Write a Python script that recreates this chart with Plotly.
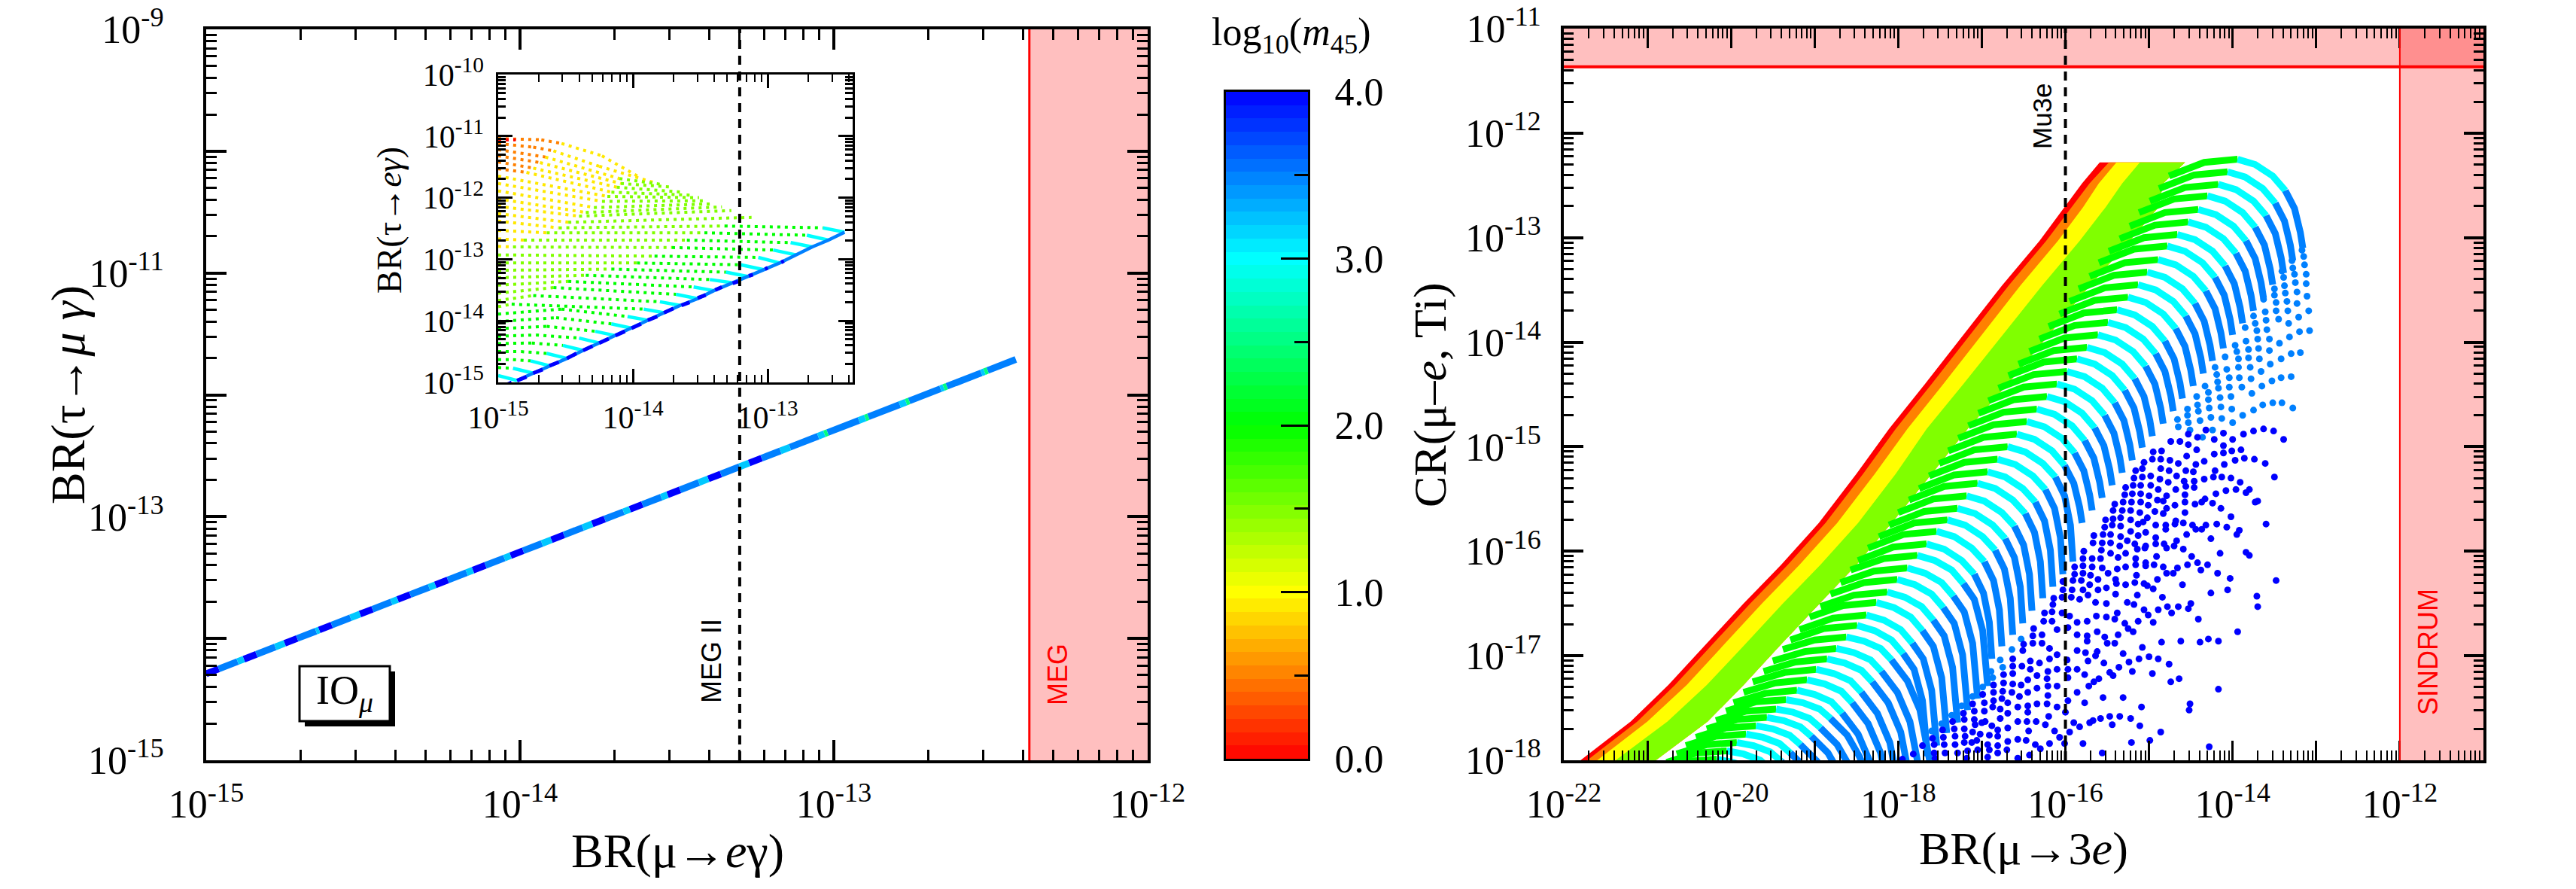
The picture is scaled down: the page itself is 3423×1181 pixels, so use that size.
import math

import plotly.graph_objects as go

W, H = 3423, 1181
SERIF = "Liberation Serif"
SANS = "Liberation Sans"

RED, ORANGE, YELLOW, LIME = "#ff0000", "#ff8000", "#ffff00", "#80ff00"
GREEN, CYAN, AZURE, BLUE = "#00ff00", "#00ffff", "#0080ff", "#0000ff"

# experimental limits, log10
meg_limit = -12.377
meg2_limit = -13.30
mu3e_limit = -16.0
sindrum_limit = -12.0
cr_limit = -11.366

# main left panel: the straight line, log10(BR) break points and colour of each piece
line_x = [-15.00,-14.96,-14.90,-14.88,-14.84,-14.78,-14.75,-14.71,-14.65,-14.64,-14.60,-14.54,-14.51,-14.47,-14.41,
          -14.39,-14.35,-14.29,-14.27,-14.23,-14.17,-14.15,-14.11,-14.05,-14.03,-13.99,-13.93,-13.90,-13.86,-13.80,
          -13.77,-13.73,-13.67,-13.65,-13.61,-13.55,-13.53,-13.49,-13.43,-13.40,-13.36,-13.30,-13.27,-13.23,-13.17,
          -13.14,-13.05,-13.03,-13.02,-12.92,-12.90,-12.89,-12.79,-12.77,-12.76,-12.66,-12.65,-12.64,-12.53,-12.52,
          -12.51,-12.42]
line_y = [-14.29,-14.25,-14.19,-14.17,-14.13,-14.07,-14.04,-14.00,-13.94,-13.93,-13.89,-13.83,-13.80,-13.76,-13.70,
          -13.68,-13.64,-13.58,-13.56,-13.52,-13.46,-13.44,-13.40,-13.34,-13.32,-13.28,-13.22,-13.19,-13.15,-13.09,
          -13.06,-13.02,-12.96,-12.94,-12.90,-12.84,-12.82,-12.78,-12.72,-12.69,-12.65,-12.59,-12.56,-12.52,-12.46,
          -12.43,-12.34,-12.32,-12.31,-12.21,-12.19,-12.18,-12.08,-12.06,-12.05,-11.95,-11.94,-11.93,-11.82,-11.81,
          -11.80,-11.71]
line_c = "BAC" * 15 + "ACG" * 5 + "A"

# inset: dotted rows, one colour letter per piece
inset_x = [
    [-15,-14.68,-14.53,-14.23,-13.95], [-15,-14.74,-14.59,-14.25,-13.85], [-15,-14.65,-14.10,-13.77], [-15,-14.69,-14.09,-13.70],
    [-15,-14.74,-14.12,-13.63], [-15,-14.79,-14.16,-13.57], [-15,-14.19,-13.51], [-15,-14.23,-13.46], [-15,-14.29,-13.41],
    [-15,-14.35,-13.34], [-15,-14.40,-13.27], [-15,-14.48,-13.12],
    [-15,-14.55,-13.32,-12.59], [-15,-14.64,-13.47,-12.71], [-15,-14.81,-13.60,-12.83], [-15,-14.89,-13.71,-12.96],
    [-15,-13.84,-13.07], [-15,-13.97,-13.20], [-15,-14.16,-13.31], [-15,-14.35,-13.43], [-15,-14.48,-13.55], [-15,-14.59,-13.68],
    [-15,-14.74,-13.80], [-15,-14.90,-13.92], [-15,-14.53,-14.04], [-15,-14.57,-14.16], [-15,-14.64,-14.28], [-15,-14.72,-14.40],
    [-15,-14.75,-14.52], [-15,-14.83,-14.64], [-15,-14.89,-14.76], [-15,-14.89]]
inset_y = [
    [-11.04,-11.06,-11.12,-11.32,-11.67], [-11.12,-11.18,-11.24,-11.49,-11.75], [-11.22,-11.34,-11.69,-11.79], [-11.32,-11.43,-11.77,-11.83],
    [-11.42,-11.52,-11.83,-11.91], [-11.53,-11.59,-11.91,-11.96], [-11.65,-11.98,-12.00], [-11.77,-12.06,-12.05], [-11.89,-12.16,-12.10],
    [-12.02,-12.24,-12.15], [-12.14,-12.30,-12.21], [-12.26,-12.40,-12.32],
    [-12.38,-12.49,-12.46,-12.49], [-12.53,-12.57,-12.57,-12.61], [-12.67,-12.69,-12.69,-12.73], [-12.79,-12.80,-12.81,-12.85],
    [-12.93,-12.95,-12.97], [-13.06,-13.06,-13.09], [-13.18,-13.16,-13.21], [-13.30,-13.26,-13.33], [-13.42,-13.36,-13.45], [-13.55,-13.46,-13.57],
    [-13.67,-13.59,-13.69], [-13.77,-13.73,-13.81], [-13.89,-13.81,-13.93], [-14.01,-13.95,-14.05], [-14.13,-14.09,-14.17], [-14.25,-14.23,-14.28],
    [-14.37,-14.36,-14.40], [-14.50,-14.50,-14.53], [-14.63,-14.63,-14.65], [-14.76,-14.77]]
inset_c = ["OOYY", "OOYY", "OYL", "OYL", "OYL", "OYL", "YL", "YL", "YL", "YL", "YL", "YL",
           "YLG", "YLG", "YLG", "YLG", "LG", "LG", "LG", "LG", "LG", "LG", "LG", "LG",
           "GG", "GG", "GG", "GG", "GG", "GG", "GG", "G"]
inset_red_x = [-15.0, -14.87]
inset_red_y = [-11.06, -11.06]

# inset: solid cyan end of each row, and the tips where they meet the diagonal
cyan_start_x = [-12.59,-12.71,-12.83,-12.96,-13.07,-13.20,-13.31,-13.43,-13.55,-13.68,-13.80,-13.92,-14.04,-14.16,-14.28,-14.40,-14.52,-14.64,-14.76,-14.89,-15.0]
cyan_start_y = [-12.49,-12.61,-12.73,-12.85,-12.97,-13.09,-13.21,-13.33,-13.45,-13.57,-13.69,-13.81,-13.93,-14.05,-14.17,-14.28,-14.40,-14.53,-14.65,-14.77,-14.89]
tip_x = [-12.43,-12.55,-12.67,-12.79,-12.91,-13.03,-13.15,-13.27,-13.40,-13.52,-13.65,-13.77,-13.89,-14.01,-14.13,-14.25,-14.37,-14.49,-14.62,-14.74,-14.86]
tip_y = [-12.56,-12.69,-12.80,-12.93,-13.06,-13.17,-13.28,-13.38,-13.51,-13.64,-13.75,-13.87,-13.99,-14.12,-14.24,-14.36,-14.48,-14.61,-14.73,-14.85,-14.97]
inset_blue_x = [(-12.88,-12.90),(-13.00,-13.02),(-13.11,-13.14),(-13.22,-13.26),(-13.34,-13.39),(-13.46,-13.52),(-13.58,-13.64),(-13.70,-13.77),(-13.82,-13.89),
                (-13.94,-14.01),(-14.06,-14.13),(-14.18,-14.25),(-14.30,-14.37),(-14.42,-14.49),(-14.55,-14.62),(-14.67,-14.74),(-14.79,-14.86),(-14.90,-14.95)]
inset_blue_y = [(-13.03,-13.05),(-13.14,-13.16),(-13.25,-13.27),(-13.36,-13.39),(-13.45,-13.50),(-13.58,-13.63),(-13.70,-13.75),(-13.80,-13.87),(-13.93,-13.99),
                (-14.05,-14.12),(-14.17,-14.24),(-14.29,-14.36),(-14.41,-14.48),(-14.53,-14.61),(-14.67,-14.73),(-14.79,-14.85),(-14.91,-14.97),(-15.00,-15.05)]

# right panel: solid bands on the left edge of the cloud
band_y      = [-18.00,-17.63,-17.28,-16.89,-16.50,-16.13,-15.73,-15.26,-14.83,-14.38,-13.92,-13.46,-13.03,-12.71,-12.48,-12.28]
red_edge    = [-21.80,-21.20,-20.75,-20.30,-19.85,-19.40,-18.95,-18.50,-18.11,-17.66,-17.21,-16.76,-16.31,-16.01,-15.80,-15.59]
orange_edge = [-21.72,-21.12,-20.67,-20.22,-19.77,-19.32,-18.87,-18.42,-18.03,-17.58,-17.13,-16.68,-16.23,-15.93,-15.71,-15.48]
yellow_edge = [-21.60,-21.00,-20.53,-20.08,-19.63,-19.18,-18.73,-18.28,-17.89,-17.44,-16.99,-16.54,-16.09,-15.79,-15.60,-15.39]
lime_edge   = [-21.38,-20.76,-20.29,-19.83,-19.38,-18.93,-18.48,-18.03,-17.66,-17.20,-16.74,-16.28,-15.83,-15.52,-15.32,-15.11]
lime_end    = [-20.90,-20.28,-19.85,-19.40,-18.94,-18.50,-18.08,-17.60,-17.17,-16.67,-16.19,-15.71,-15.23,-14.89,-14.83,-14.57]

# right panel: arcs, vertices 0-2 green, 2-5 cyan, 5-8 azure
arc_x = [
    [-14.76,-14.34,-13.94,-13.73,-13.52,-13.37,-13.26,-13.19,-13.16],
    [-14.88,-14.46,-14.06,-13.85,-13.64,-13.49,-13.38,-13.31,-13.28],
    [-14.99,-14.57,-14.17,-13.96,-13.75,-13.60,-13.49,-13.42,-13.39],
    [-15.12,-14.70,-14.30,-14.09,-13.88,-13.73,-13.62,-13.55,-13.52],
    [-15.23,-14.81,-14.41,-14.20,-13.99,-13.84,-13.73,-13.66,-13.63],
    [-15.35,-14.93,-14.53,-14.32,-14.11,-13.96,-13.85,-13.78,-13.75],
    [-15.48,-15.06,-14.66,-14.45,-14.24,-14.09,-13.98,-13.91,-13.88],
    [-15.60,-15.18,-14.78,-14.57,-14.36,-14.21,-14.10,-14.03,-14.00],
    [-15.71,-15.29,-14.89,-14.68,-14.47,-14.32,-14.21,-14.14,-14.11],
    [-15.84,-15.42,-15.02,-14.81,-14.60,-14.45,-14.34,-14.27,-14.24],
    [-15.95,-15.53,-15.13,-14.92,-14.71,-14.56,-14.45,-14.38,-14.35],
    [-16.07,-15.65,-15.25,-15.04,-14.83,-14.68,-14.57,-14.50,-14.47],
    [-16.20,-15.78,-15.38,-15.17,-14.96,-14.81,-14.70,-14.63,-14.60],
    [-16.31,-15.89,-15.49,-15.28,-15.07,-14.92,-14.81,-14.74,-14.71],
    [-16.43,-16.01,-15.61,-15.40,-15.19,-15.04,-14.93,-14.86,-14.83],
    [-16.56,-16.14,-15.74,-15.53,-15.32,-15.17,-15.06,-14.99,-14.96],
    [-16.68,-16.26,-15.86,-15.65,-15.44,-15.29,-15.18,-15.11,-15.08],
    [-16.80,-16.38,-15.98,-15.77,-15.56,-15.41,-15.30,-15.23,-15.20],
    [-16.92,-16.50,-16.10,-15.89,-15.68,-15.53,-15.42,-15.35,-15.32],
    [-17.04,-16.62,-16.22,-16.01,-15.80,-15.65,-15.54,-15.47,-15.44],
    [-17.16,-16.74,-16.34,-16.13,-15.92,-15.77,-15.66,-15.59,-15.56],
    [-17.28,-16.86,-16.46,-16.25,-16.04,-15.89,-15.78,-15.71,-15.68],
    [-17.40,-16.98,-16.58,-16.37,-16.16,-16.01,-15.90,-15.83,-15.80],
    [-17.51,-17.09,-16.69,-16.48,-16.27,-16.12,-16.01,-15.94,-15.91],
    [-17.63,-17.21,-16.81,-16.60,-16.39,-16.24,-16.13,-16.06,-16.03],
    [-17.75,-17.33,-16.93,-16.72,-16.51,-16.36,-16.25,-16.18,-16.15],
    [-17.87,-17.45,-17.05,-16.84,-16.63,-16.48,-16.37,-16.30,-16.27],
    [-18.00,-17.58,-17.18,-16.97,-16.76,-16.61,-16.50,-16.43,-16.40],
    [-18.11,-17.69,-17.29,-17.08,-16.87,-16.72,-16.61,-16.54,-16.51],
    [-18.23,-17.81,-17.41,-17.20,-16.99,-16.84,-16.73,-16.66,-16.63],
    [-18.36,-17.94,-17.54,-17.33,-17.12,-16.97,-16.86,-16.79,-16.76],
    [-18.48,-18.06,-17.66,-17.45,-17.24,-17.09,-16.98,-16.91,-16.88],
    [-18.57,-18.17,-17.77,-17.56,-17.36,-17.22,-17.09,-16.99,-16.93],
    [-18.69,-18.29,-17.89,-17.68,-17.48,-17.34,-17.21,-17.11,-17.05],
    [-18.81,-18.41,-18.01,-17.80,-17.60,-17.46,-17.33,-17.23,-17.17],
    [-18.93,-18.53,-18.13,-17.92,-17.72,-17.58,-17.45,-17.35,-17.29],
    [-19.06,-18.66,-18.26,-18.05,-17.85,-17.71,-17.58,-17.48,-17.42],
    [-19.18,-18.78,-18.38,-18.17,-17.97,-17.83,-17.70,-17.60,-17.54],
    [-19.29,-18.89,-18.49,-18.28,-18.08,-17.94,-17.81,-17.71,-17.65],
    [-19.38,-19.00,-18.62,-18.41,-18.21,-18.08,-17.89,-17.74,-17.62],
    [-19.50,-19.12,-18.74,-18.53,-18.33,-18.20,-18.01,-17.86,-17.74],
    [-19.61,-19.23,-18.85,-18.64,-18.44,-18.31,-18.12,-17.97,-17.85],
    [-19.74,-19.36,-18.98,-18.77,-18.57,-18.44,-18.25,-18.10,-17.98],
    [-19.85,-19.47,-19.09,-18.88,-18.68,-18.55,-18.36,-18.21,-18.09],
    [-19.97,-19.59,-19.21,-19.00,-18.80,-18.67,-18.48,-18.33,-18.21],
    [-20.06,-19.70,-19.34,-19.14,-18.94,-18.81,-18.61,-18.46,-18.34],
    [-20.18,-19.82,-19.46,-19.26,-19.06,-18.93,-18.73,-18.58,-18.46],
    [-20.29,-19.93,-19.57,-19.37,-19.17,-19.04,-18.84,-18.69,-18.57],
    [-20.42,-20.06,-19.70,-19.50,-19.30,-19.17,-18.97,-18.82,-18.70],
    [-20.54,-20.18,-19.82,-19.62,-19.42,-19.29,-19.09,-18.94,-18.82],
    [-20.65,-20.29,-19.93,-19.73,-19.53,-19.40,-19.20,-19.05,-18.93],
    [-20.77,-20.41,-20.05,-19.85,-19.65,-19.52,-19.32,-19.17,-19.05],
    [-20.89,-20.53,-20.17,-19.97,-19.77,-19.64,-19.44,-19.29,-19.17],
    [-21.01,-20.65,-20.29,-20.09,-19.89,-19.76,-19.56,-19.41,-19.29]]
arc_y = [
    [-12.41,-12.28,-12.25,-12.30,-12.41,-12.55,-12.72,-12.95,-13.10],
    [-12.53,-12.40,-12.37,-12.42,-12.53,-12.67,-12.84,-13.07,-13.22],
    [-12.65,-12.52,-12.49,-12.54,-12.65,-12.79,-12.96,-13.19,-13.34],
    [-12.76,-12.63,-12.60,-12.65,-12.76,-12.90,-13.07,-13.30,-13.45],
    [-12.89,-12.76,-12.73,-12.78,-12.89,-13.03,-13.20,-13.43,-13.58],
    [-13.01,-12.88,-12.85,-12.90,-13.01,-13.15,-13.32,-13.55,-13.70],
    [-13.13,-13.00,-12.97,-13.02,-13.13,-13.27,-13.44,-13.67,-13.82],
    [-13.24,-13.11,-13.08,-13.13,-13.24,-13.38,-13.55,-13.78,-13.93],
    [-13.37,-13.24,-13.21,-13.26,-13.37,-13.51,-13.68,-13.91,-14.06],
    [-13.49,-13.36,-13.33,-13.38,-13.49,-13.63,-13.80,-14.03,-14.18],
    [-13.61,-13.48,-13.45,-13.50,-13.61,-13.75,-13.92,-14.15,-14.30],
    [-13.73,-13.60,-13.57,-13.62,-13.73,-13.87,-14.04,-14.27,-14.42],
    [-13.85,-13.72,-13.69,-13.74,-13.85,-13.99,-14.16,-14.39,-14.54],
    [-13.97,-13.84,-13.81,-13.86,-13.97,-14.11,-14.28,-14.51,-14.66],
    [-14.09,-13.96,-13.93,-13.98,-14.09,-14.23,-14.40,-14.63,-14.78],
    [-14.21,-14.08,-14.05,-14.10,-14.21,-14.35,-14.52,-14.75,-14.90],
    [-14.32,-14.19,-14.16,-14.21,-14.32,-14.46,-14.63,-14.86,-15.01],
    [-14.44,-14.31,-14.28,-14.33,-14.44,-14.58,-14.75,-14.98,-15.13],
    [-14.56,-14.43,-14.40,-14.45,-14.56,-14.70,-14.87,-15.10,-15.25],
    [-14.68,-14.55,-14.52,-14.57,-14.68,-14.82,-14.99,-15.22,-15.37],
    [-14.80,-14.67,-14.64,-14.69,-14.80,-14.94,-15.11,-15.34,-15.49],
    [-14.92,-14.79,-14.76,-14.81,-14.92,-15.06,-15.23,-15.46,-15.61],
    [-15.04,-14.91,-14.88,-14.93,-15.04,-15.18,-15.35,-15.58,-15.73],
    [-15.16,-15.03,-15.00,-15.05,-15.16,-15.29,-15.47,-15.75,-16.10],
    [-15.28,-15.15,-15.12,-15.17,-15.28,-15.41,-15.59,-15.87,-16.22],
    [-15.40,-15.27,-15.24,-15.29,-15.40,-15.53,-15.71,-15.99,-16.34],
    [-15.51,-15.38,-15.35,-15.40,-15.51,-15.64,-15.82,-16.10,-16.45],
    [-15.63,-15.50,-15.47,-15.52,-15.63,-15.76,-15.94,-16.22,-16.57],
    [-15.75,-15.62,-15.59,-15.64,-15.75,-15.88,-16.06,-16.34,-16.69],
    [-15.86,-15.73,-15.70,-15.75,-15.86,-15.99,-16.17,-16.45,-16.80],
    [-15.97,-15.84,-15.81,-15.86,-15.97,-16.10,-16.28,-16.56,-16.91],
    [-16.09,-15.96,-15.93,-15.98,-16.09,-16.22,-16.40,-16.68,-17.03],
    [-16.18,-16.07,-16.04,-16.09,-16.18,-16.31,-16.46,-16.76,-17.29],
    [-16.30,-16.19,-16.16,-16.21,-16.30,-16.43,-16.58,-16.88,-17.41],
    [-16.41,-16.30,-16.27,-16.32,-16.41,-16.54,-16.69,-16.99,-17.52],
    [-16.53,-16.42,-16.39,-16.44,-16.53,-16.66,-16.81,-17.11,-17.64],
    [-16.63,-16.52,-16.49,-16.54,-16.63,-16.76,-16.91,-17.21,-17.74],
    [-16.75,-16.64,-16.61,-16.66,-16.75,-16.88,-17.03,-17.33,-17.86],
    [-16.85,-16.74,-16.71,-16.76,-16.85,-16.98,-17.13,-17.43,-17.96],
    [-16.94,-16.85,-16.82,-16.86,-16.93,-17.04,-17.24,-17.52,-18.02],
    [-17.05,-16.96,-16.93,-16.97,-17.04,-17.15,-17.35,-17.63,-18.13],
    [-17.15,-17.06,-17.03,-17.07,-17.14,-17.25,-17.45,-17.73,-18.23],
    [-17.25,-17.16,-17.13,-17.17,-17.24,-17.35,-17.55,-17.83,-18.33],
    [-17.35,-17.26,-17.23,-17.27,-17.34,-17.45,-17.65,-17.93,-18.43],
    [-17.45,-17.36,-17.33,-17.37,-17.44,-17.55,-17.75,-18.03,-18.53],
    [-17.53,-17.44,-17.42,-17.45,-17.51,-17.60,-17.76,-17.97,-18.22],
    [-17.62,-17.53,-17.51,-17.54,-17.60,-17.69,-17.85,-18.06,-18.31],
    [-17.70,-17.61,-17.59,-17.62,-17.68,-17.77,-17.93,-18.14,-18.39],
    [-17.78,-17.69,-17.67,-17.70,-17.76,-17.85,-18.01,-18.22,-18.47],
    [-17.86,-17.77,-17.75,-17.78,-17.84,-17.93,-18.09,-18.30,-18.55],
    [-17.94,-17.85,-17.83,-17.86,-17.92,-18.01,-18.17,-18.38,-18.63],
    [-18.02,-17.93,-17.91,-17.94,-18.00,-18.09,-18.25,-18.46,-18.71],
    [-18.10,-18.01,-17.99,-18.02,-18.08,-18.17,-18.33,-18.54,-18.79],
    [-18.17,-18.08,-18.06,-18.09,-18.15,-18.24,-18.40,-18.61,-18.86]]

# right panel: separate azure points at the arc tails
azure_dots = [
    (-13.17,-13.12),(-13.15,-13.18),(-13.14,-13.26),(-13.12,-13.35),(-13.12,-13.44),(-13.11,-13.56),(-13.09,-13.70),(-13.08,-13.89),
    (-13.29,-13.22),(-13.28,-13.29),(-13.26,-13.35),(-13.25,-13.43),(-13.23,-13.52),(-13.23,-13.63),(-13.21,-13.76),(-13.20,-13.90),
    (-13.41,-13.32),(-13.39,-13.38),(-13.38,-13.46),(-13.37,-13.53),(-13.35,-13.61),(-13.34,-13.70),(-13.33,-13.82),(-13.32,-13.95),(-13.19,-14.10),
    (-13.50,-13.49),(-13.50,-13.55),(-13.48,-13.62),(-13.48,-13.70),(-13.45,-13.78),(-13.44,-14.01),(-13.30,-14.11),
    (-13.63,-13.59),(-13.61,-13.71),(-13.60,-13.79),(-13.59,-13.88),(-13.56,-13.97),(-13.56,-14.08),(-13.42,-14.16),
    (-13.75,-13.75),(-13.73,-13.82),(-13.71,-13.89),(-13.70,-13.97),(-13.69,-14.06),(-13.68,-14.16),(-13.55,-14.21),(-13.66,-14.28),
    (-13.85,-13.86),(-13.84,-13.99),(-13.81,-14.07),(-13.81,-14.15),(-13.79,-14.24),(-13.78,-14.35),(-13.53,-14.37),(-13.42,-14.34),(-13.30,-14.33),
    (-13.97,-14.03),(-13.95,-14.09),(-13.93,-14.16),(-13.93,-14.24),(-13.92,-14.34),(-13.89,-14.43),(-13.65,-14.42),(-13.77,-14.49),
    (-14.09,-14.14),(-14.07,-14.26),(-14.04,-14.34),(-14.04,-14.43),(-14.02,-14.52),(-14.01,-14.64),(-13.88,-14.70),(-13.75,-14.65),(-13.64,-14.60),(-13.52,-14.58),(-13.41,-14.58),(-13.28,-14.63),
    (-14.21,-14.24),(-14.19,-14.31),(-14.18,-14.38),(-14.17,-14.44),(-14.15,-14.53),(-14.14,-14.62),(-14.13,-14.73),(-14.00,-14.77),
    (-14.33,-14.42),(-14.29,-14.48),(-14.29,-14.55),(-14.28,-14.63),(-14.26,-14.72),(-14.24,-14.84),
    (-14.43,-14.52),(-14.42,-14.60),(-14.41,-14.66),(-14.39,-14.75),(-14.36,-14.91),
    (-14.54,-14.64),(-14.54,-14.70),(-14.53,-14.77),(-14.51,-14.84),(-14.66,-14.74),(-14.65,-14.81),
    (-16.53,-16.84),(-16.64,-16.94),(-16.78,-17.04),(-16.75,-17.11),(-16.89,-17.15),(-16.87,-17.21),(-16.99,-17.30),(-17.11,-17.39),(-17.24,-17.48),(-17.36,-17.57),(-17.48,-17.65),(-17.60,-17.72)]

# right panel: scattered blue points (heaviest masses)
blue_dots = [
    (-13.39,-14.93),(-13.51,-14.85),(-13.63,-14.83),(-13.75,-14.85),(-13.87,-14.88),(-14.00,-14.93),(-14.11,-14.87),(-14.22,-14.93),(-14.32,-14.84),(-14.42,-14.91),(-14.53,-14.88),
    (-14.11,-14.99),(-13.90,-15.03),(-14.01,-15.04),(-14.11,-15.06),(-14.22,-15.07),(-14.43,-15.03),(-14.53,-14.98),(-14.63,-14.95),(-14.74,-14.95),
    (-13.61,-15.16),(-13.74,-15.12),(-13.86,-15.11),(-13.97,-15.13),(-14.10,-15.17),(-14.34,-15.14),(-14.44,-15.17),(-14.55,-15.09),(-14.65,-15.16),(-14.75,-15.13),(-14.85,-15.04),(-14.95,-15.05),
    (-13.50,-15.29),(-14.02,-15.30),(-14.13,-15.29),(-14.23,-15.29),(-14.34,-15.31),(-14.21,-15.23),(-14.47,-15.24),(-14.56,-15.23),(-14.67,-15.28),(-14.76,-15.23),(-14.86,-15.21),(-14.86,-15.12),(-14.96,-15.12),(-15.06,-15.15),
    (-13.91,-15.34),(-13.80,-15.41),(-13.84,-15.44),(-13.96,-15.41),(-14.08,-15.42),(-14.20,-15.45),(-14.46,-15.33),(-14.46,-15.39),(-14.58,-15.33),(-14.56,-15.38),(-14.68,-15.41),(-14.77,-15.34),(-14.87,-15.31),(-14.98,-15.28),(-15.08,-15.21),(-15.16,-15.23),(-15.08,-15.29),(-15.18,-15.30),
    (-13.70,-15.52),(-13.73,-15.53),(-14.14,-15.59),(-14.24,-15.54),(-14.33,-15.50),(-14.37,-15.53),(-14.45,-15.55),(-14.57,-15.46),(-14.57,-15.53),(-14.69,-15.56),(-14.79,-15.47),(-14.79,-15.59),(-14.83,-15.64),(-14.89,-15.41),(-15.00,-15.47),(-14.83,-15.52),(-14.90,-15.51),(-14.98,-15.37),(-15.10,-15.37),(-15.10,-15.45),(-15.19,-15.37),(-15.28,-15.39),(-15.20,-15.45),(-15.29,-15.46),
    (-14.02,-15.67),(-14.57,-15.63),(-14.93,-15.62),(-15.01,-15.56),(-15.10,-15.53),(-15.21,-15.53),(-15.31,-15.53),(-15.41,-15.55),(-15.43,-15.61),(-15.32,-15.61),(-15.22,-15.61),(-15.11,-15.63),
    (-13.60,-15.74),(-14.07,-15.77),(-14.19,-15.74),(-14.32,-15.75),(-14.37,-15.79),(-14.44,-15.79),(-14.48,-15.75),(-14.59,-15.73),(-14.68,-15.71),(-14.69,-15.74),(-14.80,-15.75),(-14.80,-15.79),(-14.92,-15.75),(-15.02,-15.68),(-15.07,-15.72),(-15.13,-15.74),(-15.22,-15.70),(-15.34,-15.68),(-15.43,-15.69),(-15.52,-15.70),(-15.53,-15.77),(-15.44,-15.75),(-15.34,-15.76),
    (-13.92,-15.80),(-13.95,-15.84),(-14.26,-15.88),(-14.55,-15.84),(-15.04,-15.82),(-15.13,-15.85),(-15.22,-15.81),(-15.34,-15.86),(-15.46,-15.84),(-15.55,-15.84),(-15.66,-15.85),
    (-14.15,-16.02),(-13.84,-16.01),(-13.80,-16.04),(-14.59,-15.98),(-14.67,-15.90),(-14.70,-15.95),(-14.82,-15.93),(-14.79,-15.97),(-14.92,-15.87),(-14.92,-15.93),(-15.04,-15.95),(-15.05,-15.97),(-15.17,-15.93),(-15.14,-15.98),(-15.26,-15.90),(-15.35,-15.95),(-15.46,-15.92),(-15.56,-15.92),(-15.67,-15.92),
    (-14.30,-16.13),(-14.42,-16.11),(-14.49,-16.05),(-14.54,-16.13),(-14.38,-16.18),(-14.66,-16.16),(-14.71,-16.21),(-14.79,-16.21),(-14.83,-16.15),(-14.91,-16.05),(-14.94,-16.13),(-15.04,-16.11),(-15.04,-16.14),(-15.16,-16.07),(-15.16,-16.13),(-15.28,-16.02),(-15.28,-16.15),(-15.37,-16.06),(-15.46,-16.02),(-15.57,-15.99),(-15.58,-16.07),(-15.68,-16.07),(-15.78,-16.00),(-15.79,-16.07),
    (-14.18,-16.21),(-14.03,-16.26),(-13.48,-16.28),(-14.06,-16.37),(-14.60,-16.32),(-14.90,-16.27),(-14.95,-16.36),(-15.02,-16.33),(-15.06,-16.31),(-15.15,-16.23),(-15.17,-16.30),(-15.28,-16.32),(-15.38,-16.17),(-15.40,-16.27),(-15.39,-16.31),(-15.49,-16.21),(-15.56,-16.16),(-15.68,-16.15),(-15.79,-16.14),(-15.89,-16.15),(-15.89,-16.22),(-15.79,-16.21),(-15.81,-16.28),(-15.91,-16.28),(-15.70,-16.23),(-15.61,-16.27),
    (-13.71,-16.43),(-13.70,-16.53),(-14.26,-16.40),(-14.84,-16.44),(-15.14,-16.42),(-15.40,-16.41),(-15.51,-16.35),(-15.61,-16.37),(-15.71,-16.32),(-15.79,-16.37),(-15.92,-16.37),(-16.03,-16.29),(-16.03,-16.37),
    (-14.50,-16.50),(-14.53,-16.55),(-14.65,-16.53),(-14.78,-16.53),(-14.73,-16.59),(-14.89,-16.56),(-15.06,-16.56),(-15.01,-16.61),(-15.18,-16.51),(-15.26,-16.49),(-15.51,-16.50),(-15.64,-16.49),(-15.73,-16.42),(-15.83,-16.46),(-15.93,-16.44),(-16.04,-16.44),(-16.14,-16.45),
    (-14.41,-16.65),(-15.13,-16.67),(-14.95,-16.68),(-15.29,-16.69),(-15.25,-16.74),(-15.38,-16.59),(-15.41,-16.65),(-15.51,-16.63),(-15.63,-16.62),(-15.74,-16.67),(-15.86,-16.68),(-15.95,-16.62),(-16.04,-16.59),(-16.15,-16.51),(-16.16,-16.58),(-16.25,-16.59),
    (-13.94,-16.77),(-14.17,-16.86),(-14.29,-16.84),(-14.39,-16.87),(-14.62,-16.86),(-14.85,-16.87),(-15.08,-16.92),(-15.19,-16.77),(-15.37,-16.80),(-15.41,-16.88),(-15.50,-16.88),(-15.53,-16.82),(-15.62,-16.77),(-15.74,-16.81),(-15.74,-16.86),(-15.86,-16.80),(-15.97,-16.73),(-16.10,-16.75),(-16.16,-16.67),(-16.26,-16.67),(-16.38,-16.74),
    (-15.31,-16.98),(-15.62,-16.96),(-15.86,-16.95),(-15.76,-16.97),(-15.64,-17.00),(-14.89,-17.03),(-15.00,-17.01),(-15.12,-17.03),(-14.76,-17.08),(-15.24,-17.06),(-15.54,-17.07),(-15.73,-17.05),(-15.98,-17.04),(-16.10,-16.99),(-16.19,-16.93),(-16.28,-16.88),(-16.39,-16.88),(-16.39,-16.81),(-16.50,-16.89),(-16.28,-16.80),
    (-14.64,-17.22),(-14.74,-17.25),(-14.96,-17.17),(-15.20,-17.15),(-15.36,-17.11),(-15.47,-17.16),(-15.43,-17.19),(-15.77,-17.18),(-15.86,-17.13),(-15.97,-17.13),(-16.10,-17.13),(-16.21,-17.15),(-16.19,-17.03),(-16.31,-17.07),(-16.42,-17.05),(-16.51,-16.95),(-16.63,-17.03),(-16.63,-17.10),(-16.52,-17.10),(-16.42,-17.13),
    (-14.17,-17.32),(-15.60,-17.22),(-15.66,-17.25),(-15.72,-17.29),(-15.97,-17.21),(-16.10,-17.29),(-16.21,-17.29),(-16.22,-17.22),(-16.34,-17.19),(-16.34,-17.31),(-16.45,-17.23),(-16.45,-17.35),(-16.53,-17.28),(-16.63,-17.27),(-16.74,-17.26),(-16.63,-17.17),(-16.74,-17.18),(-16.86,-17.28),
    (-14.51,-17.46),(-14.52,-17.52),(-15.31,-17.40),(-15.55,-17.40),(-15.86,-17.35),(-15.97,-17.43),(-15.77,-17.45),(-15.09,-17.49),(-16.10,-17.49),(-16.00,-17.54),(-16.21,-17.38),(-16.22,-17.46),(-16.34,-17.46),(-16.45,-17.48),(-16.45,-17.54),(-16.57,-17.49),(-16.69,-17.45),(-16.76,-17.41),(-16.55,-17.39),(-16.64,-17.35),(-16.75,-17.34),(-16.86,-17.35),(-16.99,-17.37),(-16.86,-17.43),(-16.97,-17.45),(-17.11,-17.46),
    (-15.35,-17.58),(-15.22,-17.60),(-15.47,-17.58),(-15.58,-17.60),(-15.67,-17.62),(-15.71,-17.64),(-15.44,-17.66),(-15.11,-17.67),(-15.90,-17.64),(-15.83,-17.68),(-16.20,-17.58),(-16.24,-17.66),(-16.35,-17.63),(-16.46,-17.63),(-16.57,-17.63),(-16.69,-17.55),(-16.78,-17.51),(-16.87,-17.49),(-16.97,-17.53),(-17.09,-17.53),(-17.22,-17.55),(-16.78,-17.60),(-16.96,-17.63),(-17.09,-17.61),(-17.21,-17.61),(-17.35,-17.63),
    (-14.86,-17.73),(-15.95,-17.73),(-16.13,-17.72),(-16.07,-17.78),(-16.44,-17.72),(-16.69,-17.69),(-16.81,-17.71),(-16.88,-17.67),(-17.00,-17.64),(-17.08,-17.66),(-17.21,-17.70),(-17.33,-17.70),(-17.47,-17.71),
    (-14.99,-17.81),(-15.21,-17.83),(-15.79,-17.84),(-14.28,-17.87),(-15.56,-17.93),(-16.01,-17.84),(-16.19,-17.84),(-16.36,-17.85),(-16.47,-17.81),(-16.57,-17.80),(-16.69,-17.82),(-16.81,-17.77),(-16.91,-17.76),(-17.02,-17.75),(-17.11,-17.73),(-17.20,-17.77),(-17.32,-17.77),(-17.46,-17.78),(-17.59,-17.79),
    (-16.30,-17.89),(-16.43,-17.95),(-16.81,-17.86),(-16.93,-17.85),(-17.06,-17.81),(-17.12,-17.83),(-17.21,-17.83),(-17.32,-17.85),(-17.45,-17.85),(-17.57,-17.85),(-16.57,-17.98),(-16.70,-17.90),(-16.91,-17.90),(-16.81,-17.93),(-17.05,-17.90),(-17.17,-17.91),(-17.29,-17.93),(-17.44,-17.93),(-17.57,-17.93),(-16.93,-17.97),(-17.18,-17.98),(-17.56,-17.98),
    (-17.71,-17.86),(-17.82,-17.94),(-17.95,-17.99)]

# colour bar bands, log10(m45) at the middle of each band
cb_levels = [0.04,0.12,0.20,0.28,0.36,0.44,0.52,0.60,0.68,0.76,0.84,0.92,1.00,1.08,1.16,1.24,1.32,1.40,1.48,1.56,1.64,1.72,1.80,1.88,1.96,
             2.04,2.12,2.20,2.28,2.36,2.44,2.52,2.60,2.68,2.76,2.84,2.92,3.00,3.08,3.16,3.24,3.32,3.40,3.48,3.56,3.64,3.72,3.80,3.88,3.96]
cb_ticks = [0, 1, 2, 3, 4]
cb_labels = ["0.0", "1.0", "2.0", "3.0", "4.0"]
cb_minor = [0.5, 1.5, 2.5, 3.5]


def pw(v):
    return [None if a is None else 10.0 ** a for a in v]


def px(x):
    return x / W


def py(y):
    return 1 - y / H


def decade_axis(rng, labelled, size, major, minor, lw, tw, mtw, standoff, xlo_px, xhi_px, anchor):
    decades = list(range(rng[0], math.floor(rng[1]) + 1))
    return dict(
        type="log", range=rng, domain=[xlo_px, xhi_px], anchor=anchor, automargin=False,
        showline=True, linecolor="black", linewidth=lw, mirror="allticks", showgrid=False, zeroline=False,
        tickmode="array", tickvals=[10.0 ** e for e in decades],
        ticktext=["10<sup>%d</sup>" % e if e in labelled else "" for e in decades],
        ticks="inside", ticklen=major, tickwidth=tw, tickcolor="black", tickangle=0,
        ticklabelstandoff=standoff,
        tickfont=dict(family=SERIF, size=size, color="black"),
        minor=dict(ticks="inside", ticklen=minor, tickwidth=mtw, tickcolor="black", showgrid=False,
                   tickmode="array", tickvals=[m * 10.0 ** e for e in decades for m in range(2, 10)]),
    )


fig = go.Figure()

# left main line, one trace per colour
line_cols = {"B": BLUE, "A": AZURE, "C": "#00c8ff", "G": "#00ff80"}
for key, col in line_cols.items():
    xs, ys = [], []
    for i, c in enumerate(line_c):
        if c == key:
            xs += [line_x[i], line_x[i + 1], None]
            ys += [line_y[i], line_y[i + 1], None]
    fig.add_trace(go.Scatter(x=pw(xs), y=pw(ys), mode="lines", line=dict(color=col, width=9), xaxis="x", yaxis="y", hoverinfo="skip"))

# inset rows
inset_cols = {"O": ORANGE, "Y": "#ffe800", "L": LIME, "G": GREEN}
for key, col in inset_cols.items():
    xs, ys = [], []
    for rx, ry, rc in zip(inset_x, inset_y, inset_c):
        for k, c in enumerate(rc):
            if c == key:
                xs += [rx[k], rx[k + 1], None]
                ys += [ry[k], ry[k + 1], None]
    fig.add_trace(go.Scatter(x=pw(xs), y=pw(ys), mode="lines", line=dict(color=col, width=4, dash="4px,6px"),
                             xaxis="x2", yaxis="y2", hoverinfo="skip"))
fig.add_trace(go.Scatter(x=pw(inset_red_x), y=pw(inset_red_y), mode="lines", line=dict(color=RED, width=4, dash="4px,6px"),
                         xaxis="x2", yaxis="y2", hoverinfo="skip"))
xs, ys = [], []
for a, b, c, d in zip(cyan_start_x, tip_x, cyan_start_y, tip_y):
    xs += [a, b, None]
    ys += [c, d, None]
fig.add_trace(go.Scatter(x=pw(xs), y=pw(ys), mode="lines", line=dict(color=CYAN, width=4.5), xaxis="x2", yaxis="y2", hoverinfo="skip"))
fig.add_trace(go.Scatter(x=pw(tip_x), y=pw(tip_y), mode="lines", line=dict(color=AZURE, width=4.5), xaxis="x2", yaxis="y2", hoverinfo="skip"))
xs, ys = [], []
for a, b in zip(inset_blue_x, inset_blue_y):
    xs += [a[0], a[1], None]
    ys += [b[0], b[1], None]
fig.add_trace(go.Scatter(x=pw(xs), y=pw(ys), mode="lines", line=dict(color=BLUE, width=5), xaxis="x2", yaxis="y2", hoverinfo="skip"))

# colour bar
fig.add_trace(go.Heatmap(x=[0, 1], y=cb_levels, z=[[v, v] for v in cb_levels], zmin=0, zmax=4, showscale=False, xaxis="x3", yaxis="y3",
                         hoverinfo="skip",
                         colorscale=[[0, RED], [0.25, YELLOW], [0.5, GREEN], [0.75, CYAN], [1, BLUE]]))

# right panel bands
for edge, col in [(red_edge, RED), (orange_edge, ORANGE), (yellow_edge, YELLOW), (lime_edge, LIME)]:
    fig.add_trace(go.Scatter(x=pw(edge + lime_end[::-1]), y=pw(band_y + band_y[::-1]), mode="lines", fill="toself", fillcolor=col,
                             line=dict(width=0, color=col), xaxis="x4", yaxis="y4", hoverinfo="skip"))

# right panel arcs
for lo, hi, col, wid in [(0, 2, GREEN, 9), (2, 5, CYAN, 9), (5, 8, AZURE, 9)]:
    xs, ys = [], []
    for rx, ry in zip(arc_x, arc_y):
        xs += rx[lo:hi + 1] + [None]
        ys += ry[lo:hi + 1] + [None]
    fig.add_trace(go.Scatter(x=pw(xs), y=pw(ys), mode="lines", line=dict(color=col, width=wid),
                             xaxis="x4", yaxis="y4", hoverinfo="skip", connectgaps=False))

fig.add_trace(go.Scatter(x=pw([p[0] for p in azure_dots]), y=pw([p[1] for p in azure_dots]), mode="markers",
                         marker=dict(color=AZURE, size=9, line=dict(width=0)), xaxis="x4", yaxis="y4", hoverinfo="skip"))
fig.add_trace(go.Scatter(x=pw([p[0] for p in blue_dots]), y=pw([p[1] for p in blue_dots]), mode="markers",
                         marker=dict(color=BLUE, size=9, line=dict(width=0)), xaxis="x4", yaxis="y4", hoverinfo="skip"))

PINK = "rgba(255,0,0,0.25)"
shapes = [
    dict(type="rect", xref="x", yref="y domain", x0=10 ** meg_limit, x1=1e-12, y0=0, y1=1, fillcolor=PINK, line_width=0, layer="below"),
    dict(type="line", xref="x", yref="y domain", x0=10 ** meg_limit, x1=10 ** meg_limit, y0=0, y1=1, line=dict(color=RED, width=3)),
    dict(type="line", xref="x", yref="y domain", x0=10 ** meg2_limit, x1=10 ** meg2_limit, y0=0, y1=1, line=dict(color="black", width=4, dash="12px,9px")),
    dict(type="rect", xref="x4", yref="y4 domain", x0=10 ** sindrum_limit, x1=1e-11, y0=0, y1=1, fillcolor=PINK, line_width=0, layer="below"),
    dict(type="rect", xref="x4 domain", yref="y4", x0=0, x1=1, y0=10 ** cr_limit, y1=1e-11, fillcolor=PINK, line_width=0, layer="below"),
    dict(type="line", xref="x4", yref="y4 domain", x0=10 ** sindrum_limit, x1=10 ** sindrum_limit, y0=0, y1=1, line=dict(color=RED, width=2)),
    dict(type="line", xref="x4 domain", yref="y4", x0=0, x1=1, y0=10 ** cr_limit, y1=10 ** cr_limit, line=dict(color=RED, width=4)),
    dict(type="line", xref="x4", yref="y4 domain", x0=10 ** mu3e_limit, x1=10 ** mu3e_limit, y0=0, y1=1, line=dict(color="black", width=4, dash="12px,9px")),
    # IO box with its drop shadow
    dict(type="rect", xref="paper", yref="paper", x0=px(405), x1=px(525), y0=py(965), y1=py(892), fillcolor="black", line_width=0),
    dict(type="rect", xref="paper", yref="paper", x0=px(398), x1=px(518), y0=py(958), y1=py(885), fillcolor="white", line=dict(color="black", width=3)),
]


def note(text, x, y, size, rot=0, family=SERIF, color="black"):
    return dict(text=text, x=px(x), y=py(y), xref="paper", yref="paper", showarrow=False, xanchor="center", yanchor="middle",
                textangle=rot, font=dict(family=family, size=size, color=color))


annotations = [
    note("BR(μ→<i>e</i>γ)", 900, 1130, 64),
    note("BR(τ→<i>μ γ</i>)", 90, 525, 64, -90),
    note("BR(τ→<i>eγ</i>)", 518, 293, 46, -90),
    note("BR(μ→3<i>e</i>)", 2689, 1127, 62),
    note("CR(μ–<i>e</i>, Ti)", 1900, 525, 62, -90),
    note("log<sub>10</sub>(<i>m</i><sub>45</sub>)", 1715, 47, 52),
    note("IO<sub><i>μ</i></sub>", 458, 920, 54),
    note("MEG II", 945, 878, 36, -90, SANS),
    note("MEG", 1405, 896, 36, -90, SANS, RED),
    note("Mu3e", 2714, 154, 35, -90, SANS),
    note("SINDRUM", 3226, 866, 36, -90, SANS, RED),
]

fig.update_layout(
    template="none",
    width=W, height=H, autosize=False, margin=dict(l=0, r=0, t=0, b=0, pad=0),
    paper_bgcolor="white", plot_bgcolor="white", showlegend=False,
    shapes=shapes, annotations=annotations,
    xaxis=decade_axis([-15, -12], [-15, -14, -13, -12], 52, 27, 14, 4, 3.5, 3, 10, px(274), px(1525), "y"),
    yaxis=decade_axis([-15, -9], [-15, -13, -11, -9], 52, 27, 14, 4, 3.5, 3, 42, py(1010), py(39), "x"),
    xaxis2=decade_axis([-15, -12.37], [-15, -14, -13], 42, 18, 10, 2.5, 2.5, 2, 8, px(662), px(1133), "y2"),
    yaxis2=decade_axis([-15, -10], [-15, -14, -13, -12, -11, -10], 42, 19, 10, 2.5, 2.5, 2.5, 8, py(508), py(99), "x2"),
    xaxis3=dict(domain=[px(1629), px(1738)], range=[-0.5, 1.5], anchor="y3", showticklabels=False, ticks="", automargin=False,
                showline=True, linecolor="black", linewidth=3, mirror=True, showgrid=False, zeroline=False),
    yaxis3=dict(domain=[py(1008), py(122)], range=[0, 4], anchor="x3", side="right", showline=True, linecolor="black", linewidth=3, automargin=False,
                mirror=True, showgrid=False, zeroline=False, tickmode="array", tickvals=cb_ticks, ticktext=cb_labels,
                ticks="inside", ticklen=36, tickwidth=2.5, tickcolor="black", ticklabelstandoff=22,
                tickfont=dict(family=SERIF, size=52, color="black"),
                minor=dict(ticks="inside", ticklen=18, tickwidth=2.5, tickcolor="black", tickmode="array", tickvals=cb_minor, showgrid=False)),
    xaxis4=decade_axis([-22, -11], [-22, -20, -18, -16, -14, -12], 52, 26, 13, 4, 2.5, 2, 10, px(2078), px(3300), "y4"),
    yaxis4=decade_axis([-18, -11], [-18, -17, -16, -15, -14, -13, -12, -11], 52, 26, 13, 4, 3.5, 3, 16, py(1010), py(38), "x4"),
)

fig.write_html("out.html", config=dict(displayModeBar=False), post_script="document.body.style.margin='0';")
